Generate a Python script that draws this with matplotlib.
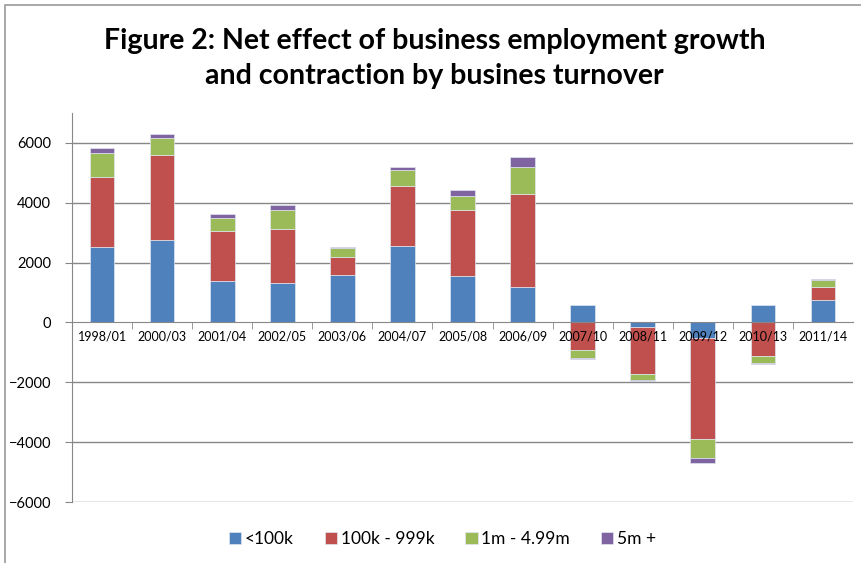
import numpy as np
import matplotlib
matplotlib.use("Agg")
import matplotlib.pyplot as plt
from matplotlib.patches import Rectangle

plt.rcParams['font.family'] = ['Lato', 'DejaVu Sans']

# net employment effect by turnover band, per period
periods = ["1998/01", "2000/03", "2001/04", "2002/05", "2003/06", "2004/07", "2005/08",
           "2006/09", "2007/10", "2008/11", "2009/12", "2010/13", "2011/14"]
under_100k = [2510, 2770, 1370, 1320, 1590, 2555, 1545, 1200, 570, -155, -520, 600, 765]
k100_999 = [2335, 2810, 1700, 1790, 590, 1990, 2200, 3100, -930, -1580, -3380, -1130, 435]
m1_499 = [820, 600, 430, 645, 300, 535, 480, 900, -245, -180, -630, -225, 210]
m5_plus = [170, 120, 120, 165, 45, 120, 210, 345, -45, -45, -180, -35, 55]

series = [("<100k", under_100k, "#4F81BD"),
          ("100k - 999k", k100_999, "#C0504D"),
          ("1m - 4.99m", m1_499, "#9BBB59"),
          ("5m +", m5_plus, "#8064A2")]

fig = plt.figure(figsize=(8.61, 5.63), dpi=100)
ax = fig.add_axes([72/861, 1 - 502/563, (853-72)/861, (502-113)/563])

x = np.arange(len(periods))
yticks = np.arange(-6000, 6001, 2000)

# gridlines under the bars, axis labels over them
for yv in yticks:
    if yv != 0:
        ax.axhline(yv, color="#878787", linewidth=1.0, zorder=1)

pos_base = np.zeros(len(periods))
neg_base = np.zeros(len(periods))
handles = []
for name, vals, col in series:
    v = np.array(vals, dtype=float)
    base = np.where(v >= 0, pos_base, neg_base)
    h = ax.bar(x, v, 0.41, bottom=base, color=col, edgecolor="#dfe6f0",
               linewidth=0.5, label=name, zorder=2)
    handles.append(h)
    pos_base += np.where(v >= 0, v, 0)
    neg_base += np.where(v < 0, v, 0)

ax.set_axisbelow(False)
ax.set_xlim(-0.5, len(periods) - 0.5)
ax.set_ylim(-6000, 7000)
ax.set_yticks(yticks)

for s in ["top", "right"]:
    ax.spines[s].set_visible(False)
ax.spines["bottom"].set_position(("data", 0))
ax.spines["bottom"].set_color("#878787")
ax.spines["left"].set_color("#878787")

ax.set_xticks(x)
ax.set_xticklabels(periods, fontsize=9)
ax.set_xticks(np.arange(0.5, len(periods) - 0.5, 1), minor=True)
ax.tick_params(axis="x", which="major", length=0, pad=6)
ax.tick_params(axis="x", which="minor", length=5, color="#878787", direction="out")
ax.tick_params(axis="y", length=5, color="#878787", labelsize=10.5, pad=10)

fig.suptitle("Figure 2: Net effect of business employment growth\nand contraction by busines turnover",
             x=0.505, y=0.95, fontsize=20.5, fontweight="bold", linespacing=1.4)

fig.legend(handles=handles, loc="center", bbox_to_anchor=(0.514, 0.042), ncol=4,
           frameon=False, fontsize=12.5, handlelength=0.7, handleheight=0.7,
           handletextpad=0.2, columnspacing=1.8)

# chart frame
fig.add_artist(Rectangle((5/861, -0.1), 1.2, 1.1 - 5/563, transform=fig.transFigure,
                         fill=False, edgecolor="#9a9a9a", linewidth=1.2))

fig.savefig("out.png", dpi=100)
